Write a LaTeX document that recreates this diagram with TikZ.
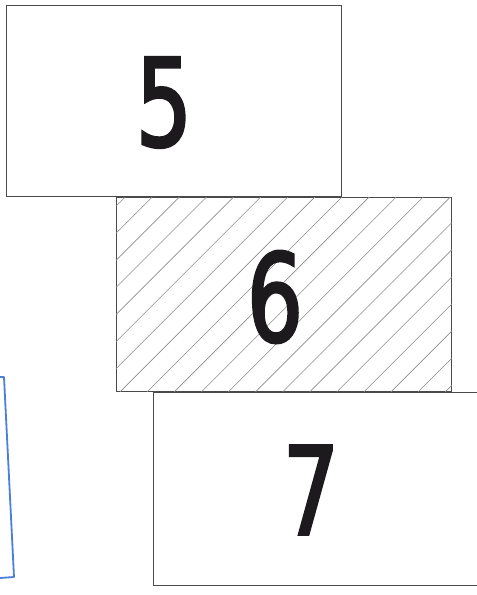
\documentclass[tikz,border=0pt]{standalone}
\usepackage{fontspec}
\newfontfamily\digitfont[FakeStretch=0.72,FakeBold=2.2]{DejaVu Sans}
\usepackage{xcolor}
\definecolor{cLine}{HTML}{4A4A4A}
\definecolor{cHatch}{HTML}{8C8C8C}
\definecolor{cText}{HTML}{1C1A1C}
\definecolor{cBlue}{HTML}{4A7FDB}
\usepackage{tikz}
\usetikzlibrary{positioning}
\tikzset{
  node-part/.style={draw=cLine,line width=0.9pt,inner sep=0pt,
    minimum width=335pt,anchor=north west},
  node-num/.style={text=cText,inner sep=0pt,
    font=\digitfont\fontsize{122}{122}\selectfont},
  hatch/.style={draw=cHatch,line width=0.6pt},
  mark-blue/.style={draw=cBlue,line width=1.8pt,line join=round,line cap=round},
}

\begin{document}
\begin{tikzpicture}[x=1pt,y=-1pt]
  \clip (0,0) rectangle (477,595);
  % parts stacked top to bottom
  \node[node-part,minimum height=191.5pt] (box5) at (5.5,4.5) {};
  \node[node-part,minimum height=194pt] (box6) at (116,197) {};
  \node[node-part,minimum width=345pt,minimum height=193.5pt] (box7) at (153,391.5) {};
  % hatching of the middle part
  \begin{scope}
    \clip (box6.south west) rectangle (box6.north east);
    \foreach \k in {-8,...,13}
      \draw[hatch] (box6.south west) ++(\k*27.1pt+4pt,0pt) -- ++(400pt,400pt);
  \end{scope}
  \node[node-num] (num5) at (164,102.5) {5};
  \node[node-num] (num6) at (275,297) {6};
  \node[node-num] (num7) at (311,490) {7};
  % blue mark on the left
  \draw[mark-blue] (0,377) -- (4,377) -- (14,577) -- (0,578);
\end{tikzpicture}
\end{document}
